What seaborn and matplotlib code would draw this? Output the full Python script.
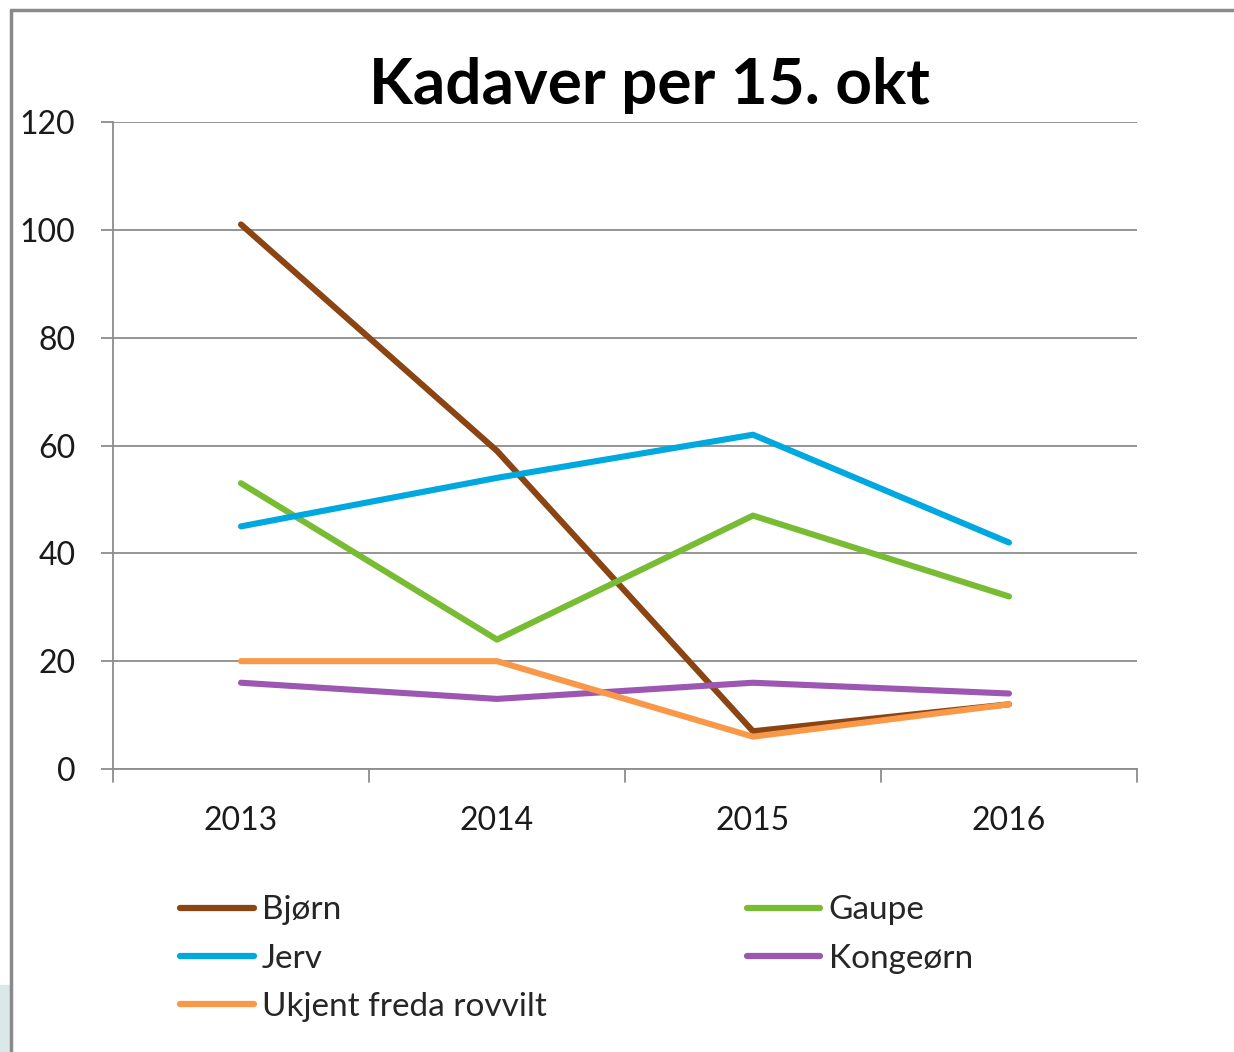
import pandas as pd
import seaborn as sns
import matplotlib.pyplot as plt
from matplotlib.lines import Line2D
from matplotlib.patches import Rectangle

# --- Data ---
years = ["2013", "2014", "2015", "2016"]
bjorn = [101, 59, 7, 12]
gaupe = [53, 24, 47, 32]
jerv = [45, 54, 62, 42]
kongeorn = [16, 13, 16, 14]
ukjent = [20, 20, 6, 12]

series = {
    "Bjørn": bjorn,
    "Gaupe": gaupe,
    "Jerv": jerv,
    "Kongeørn": kongeorn,
    "Ukjent freda rovvilt": ukjent,
}
colors = {
    "Bjørn": "#8B4513",
    "Gaupe": "#78BC34",
    "Jerv": "#00A8E0",
    "Kongeørn": "#9B57B1",
    "Ukjent freda rovvilt": "#F89848",
}

rows = []
for name, vals in series.items():
    for yr, v in zip(years, vals):
        rows.append({"Year": yr, "Value": v, "Art": name})
df = pd.DataFrame(rows)

sns.set_theme(style="white")
plt.rcParams["font.family"] = ["Lato", "DejaVu Sans"]

fig = plt.figure(figsize=(12.34, 10.52), dpi=100)
ax = fig.add_axes([113 / 1234, 1 - 769 / 1052, (1137 - 113) / 1234, (769 - 122) / 1052])

sns.lineplot(data=df, x="Year", y="Value", hue="Art", palette=colors,
             linewidth=4.4, sort=False, legend=False, ax=ax,
             solid_capstyle="round")

# --- Axes styling (Excel look) ---
grid_c = "#8c8c8c"
ax.set_ylim(0, 120)
ax.set_yticks(range(0, 121, 20))
ax.set_xlim(-0.5, 3.5)
ax.set_xticks(range(len(years)))
ax.set_xticklabels(years)
ax.set_xlabel("")
ax.set_ylabel("")
ax.yaxis.grid(True, color=grid_c, linewidth=1.3)
ax.set_axisbelow(True)
for s in ["top", "right"]:
    ax.spines[s].set_visible(False)
for s in ["left", "bottom"]:
    ax.spines[s].set_color(grid_c)
    ax.spines[s].set_linewidth(1.3)
ax.tick_params(axis="y", length=9, width=1.3, color=grid_c, labelsize=23,
               pad=18, left=True)
ax.tick_params(axis="x", length=0, labelsize=23, pad=27, bottom=True)
# category boundary ticks on x
for b in [-0.5, 0.5, 1.5, 2.5, 3.5]:
    ax.plot([b, b], [0, -2.4], color=grid_c, linewidth=1.3, clip_on=False)
for lab in ax.get_yticklabels() + ax.get_xticklabels():
    lab.set_color("#1a1a1a")

fig.text(649 / 1234, 1 - 86 / 1052, "Kadaver per 15. okt", ha="center",
         va="center", fontsize=46, fontweight="bold", color="black")

# --- Legend, two columns ---
order = ["Bjørn", "Jerv", "Ukjent freda rovvilt", "Gaupe", "Kongeørn"]
handles = [Line2D([0], [0], color=colors[n], linewidth=4.5,
                  solid_capstyle="round") for n in order]
fig.legend(handles, order, loc="upper left",
           bbox_to_anchor=(167 / 1234, 1 - 882 / 1052), ncol=2,
           frameon=False, fontsize=24, handlelength=2.2, handletextpad=0.25,
           labelspacing=0.55, columnspacing=6.0, borderaxespad=0)

# --- Frame decorations from the screenshot ---
fig.add_artist(Line2D([11 / 1234, 11 / 1234], [0, 1 - 10 / 1052],
                      color="#8a8a8a", linewidth=2.5, transform=fig.transFigure))
fig.add_artist(Line2D([11 / 1234, 1], [1 - 10 / 1052, 1 - 10 / 1052],
                      color="#8a8a8a", linewidth=2.5, transform=fig.transFigure))
fig.add_artist(Rectangle((0, 0), 9 / 1234, 67 / 1052, color="#dbe8e8",
                         transform=fig.transFigure))

fig.savefig("out.png", dpi=100)
